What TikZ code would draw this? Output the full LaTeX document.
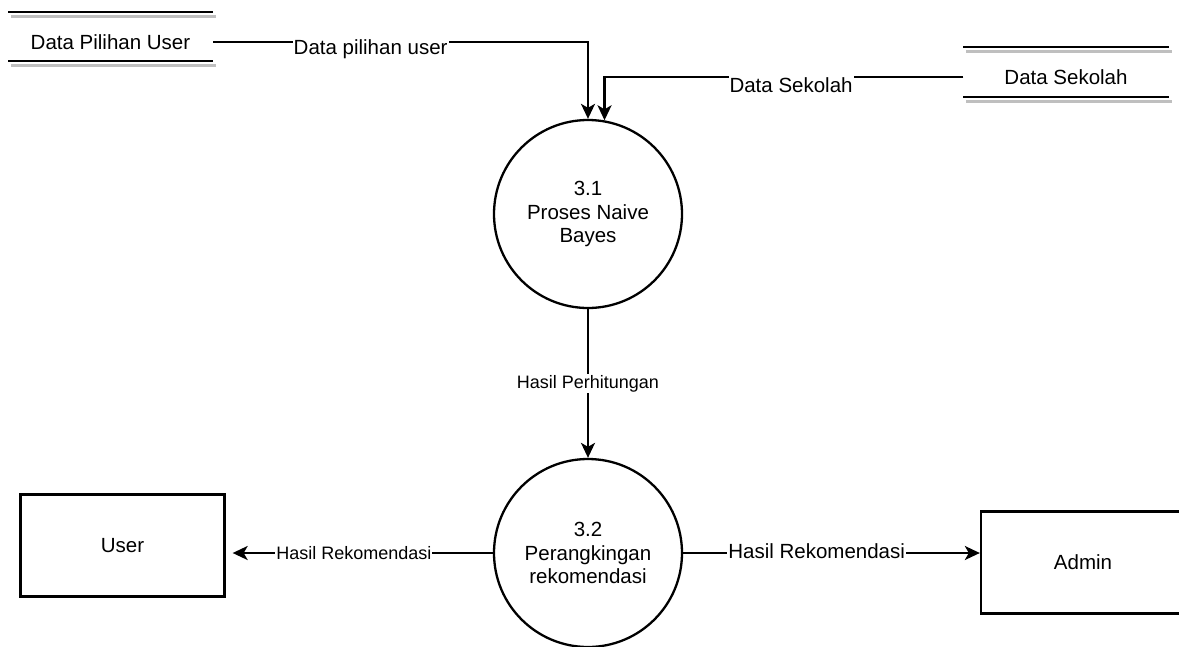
\documentclass[tikz,border=0pt]{standalone}
\usepackage{fontspec}
\setmainfont{Liberation Sans}
\usetikzlibrary{arrows.meta}

\begin{document}
\begin{tikzpicture}[x=1pt,y=-1pt,
	proc/.style={draw,circle,line width=2.3pt,minimum size=188pt,inner sep=0pt,align=center,font=\fontsize{20.5}{23.5}\selectfont},
	ent/.style={draw,rectangle,line width=2.3pt,minimum width=204pt,minimum height=102pt,font=\fontsize{20.5}{24}\selectfont},
	store/.style={minimum width=205pt,inner sep=0pt,font=\fontsize{20.5}{24}\selectfont},
	flow/.style={line width=2.3pt,-{Stealth[length=15pt,width=14pt,inset=4pt]}},
	lbl/.style={fill=white,inner sep=1pt,font=\fontsize{20.5}{24}\selectfont},
	slbl/.style={fill=white,inner sep=1pt,font=\fontsize{18}{20}\selectfont}]
	\useasboundingbox (0,0) rectangle (1179,646);
	\node[proc] (p31) at (588,214) {3.1\\Proses Naive\\Bayes};
	\node[proc] (p32) at (588,553) {3.2\\Perangkingan\\rekomendasi};
	\node[ent] (user) at (122.5,545.5) {User};
	\node[ent] (admin) at (1083,562.5) {Admin};
	\node[store] (dpu) at (110.5,42) {Data Pilihan User};
	\node[store] (dsk) at (1066,77) {Data Sekolah};
	% garis data store
	\foreach \xa/\xb/\ya/\yb in {8/213/12/61,963/1169/47/97}{
		\draw[line width=2.3pt,gray!50] (\xa+3,\ya+4.5) -- (\xb+3,\ya+4.5) (\xa+3,\yb+4.5) -- (\xb+3,\yb+4.5);
		\draw[line width=2.3pt] (\xa,\ya) -- (\xb,\ya) (\xa,\yb) -- (\xb,\yb);
	}
	\draw[flow] (dpu.east) -| node[lbl,pos=0.21,yshift=-7pt]{Data pilihan user} (p31.north);
	\draw[flow] (dsk.west) -| node[lbl,pos=0.24,yshift=-8pt]{Data Sekolah} (p31.80);
	\draw[flow] (p31) -- node[slbl]{Hasil Perhitungan} (p32);
	\draw[flow,shorten >=7pt] (p32) -- node[slbl,pos=0.52]{Hasil Rekomendasi} (p32 -| user.east);
	\draw[flow] (p32) -- node[lbl,pos=0.45,yshift=2pt]{Hasil Rekomendasi} (p32 -| admin.west);
\end{tikzpicture}
\end{document}
